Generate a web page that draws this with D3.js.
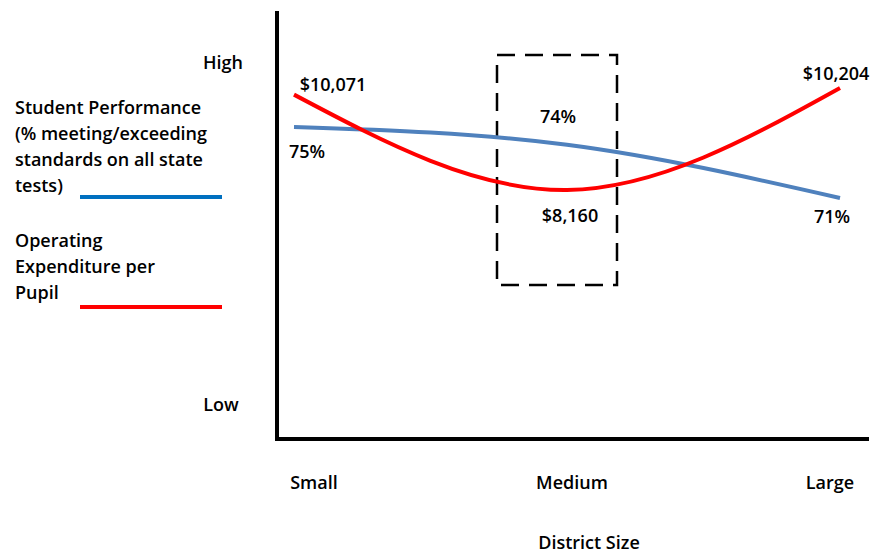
<!DOCTYPE html>
<html>
<head>
<meta charset="utf-8">
<script src="https://cdn.jsdelivr.net/npm/d3@7"></script>
<style>
  html, body { margin: 0; padding: 0; background: #fff; }
  svg { display: block; }
  text { font-family: "Open Sans", Lato, sans-serif; font-weight: 600; font-size: 18px; fill: #000; }
</style>
</head>
<body>
<svg id="chart" width="885" height="554"></svg>
<script>
// District size categories along the horizontal axis
const districtSizes = ["Small", "Medium", "Large"];

// Student performance: % meeting/exceeding standards on all state tests
const performancePct = [75, 74, 71];
const performanceLabels = ["75%", "74%", "71%"];

// Operating expenditure per pupil (dollars)
const expenditure = [10071, 8160, 10204];
const expenditureLabels = ["$10,071", "$8,160", "$10,204"];

// Qualitative vertical axis labels
const levelLabels = ["High", "Low"];

const legendPerformance = ["Student Performance", "(% meeting/exceeding", "standards on all state", "tests)"];
const legendExpenditure = ["Operating", "Expenditure per", "Pupil"];

const svg = d3.select("#chart");

// Plot frame
const axisX = 277, axisTop = 11, axisBottom = 439, axisRight = 869;

// Horizontal scales: one for the line points, one for the category captions
const x = d3.scalePoint().domain(districtSizes).range([294, 840]);
const xCaption = d3.scalePoint().domain(districtSizes).range([314, 830]);

// Each series sits on its own qualitative High/Low scale
const yPerf = d3.scaleLinear().domain(d3.extent(performancePct)).range([198, 127]);
const yExp = d3.scaleLinear().domain(d3.extent(expenditure)).range([190, 88]);

// Highlight box around the medium districts
svg.append("rect")
  .attr("x", 497).attr("y", 55)
  .attr("width", 120).attr("height", 230)
  .attr("fill", "none")
  .attr("stroke", "#000")
  .attr("stroke-width", 2.5)
  .attr("stroke-dasharray", "18,10");

// Series lines
const perfLine = d3.line()
  .x((d, i) => x(districtSizes[i]))
  .y(d => yPerf(d))
  .curve(d3.curveNatural);

const expLine = d3.line()
  .x((d, i) => x(districtSizes[i]))
  .y(d => yExp(d))
  .curve(d3.curveNatural);

svg.append("path")
  .datum(performancePct)
  .attr("d", perfLine)
  .attr("fill", "none")
  .attr("stroke", "#4f81bd")
  .attr("stroke-width", 4);

svg.append("path")
  .datum(expenditure)
  .attr("d", expLine)
  .attr("fill", "none")
  .attr("stroke", "#ff0000")
  .attr("stroke-width", 4);

// Axes drawn as a plain L-shaped frame
svg.append("line")
  .attr("x1", axisX).attr("x2", axisX)
  .attr("y1", axisTop).attr("y2", axisBottom + 2)
  .attr("stroke", "#000").attr("stroke-width", 4);
svg.append("line")
  .attr("x1", axisX - 2).attr("x2", axisRight)
  .attr("y1", axisBottom).attr("y2", axisBottom)
  .attr("stroke", "#000").attr("stroke-width", 4);

// Category captions
svg.selectAll("text.cat")
  .data(districtSizes)
  .join("text")
  .attr("class", "cat")
  .attr("x", d => xCaption(d))
  .attr("y", 489)
  .attr("text-anchor", "middle")
  .text(d => d);

svg.append("text")
  .attr("x", 589).attr("y", 549)
  .attr("text-anchor", "middle")
  .text("District Size");

// High / Low
svg.append("text").attr("x", 223).attr("y", 69).attr("text-anchor", "middle").text(levelLabels[0]);
svg.append("text").attr("x", 221).attr("y", 411).attr("text-anchor", "middle").text(levelLabels[1]);

// Value labels for student performance
const perfOffsets = [[13, 31], [-9, -22], [-8, 25]];
svg.selectAll("text.perf")
  .data(performancePct)
  .join("text")
  .attr("class", "perf")
  .attr("x", (d, i) => x(districtSizes[i]) + perfOffsets[i][0])
  .attr("y", (d, i) => yPerf(d) + perfOffsets[i][1])
  .attr("text-anchor", "middle")
  .text((d, i) => performanceLabels[i]);

// Value labels for expenditure
const expOffsets = [[39, -4], [3, 32], [-4, -8]];
svg.selectAll("text.exp")
  .data(expenditure)
  .join("text")
  .attr("class", "exp")
  .attr("x", (d, i) => x(districtSizes[i]) + expOffsets[i][0])
  .attr("y", (d, i) => yExp(d) + expOffsets[i][1])
  .attr("text-anchor", "middle")
  .text((d, i) => expenditureLabels[i]);

// Legend
const legend = svg.append("g");
legend.selectAll("text.lp")
  .data(legendPerformance)
  .join("text")
  .attr("class", "lp")
  .attr("x", 15)
  .attr("y", (d, i) => 114 + i * 26)
  .text(d => d);
legend.append("line")
  .attr("x1", 80).attr("x2", 222)
  .attr("y1", 197).attr("y2", 197)
  .attr("stroke", "#0070c0").attr("stroke-width", 4);

legend.selectAll("text.le")
  .data(legendExpenditure)
  .join("text")
  .attr("class", "le")
  .attr("x", 15)
  .attr("y", (d, i) => 247 + i * 26)
  .text(d => d);
legend.append("line")
  .attr("x1", 80).attr("x2", 222)
  .attr("y1", 307).attr("y2", 307)
  .attr("stroke", "#ff0000").attr("stroke-width", 4);
</script>
</body>
</html>
